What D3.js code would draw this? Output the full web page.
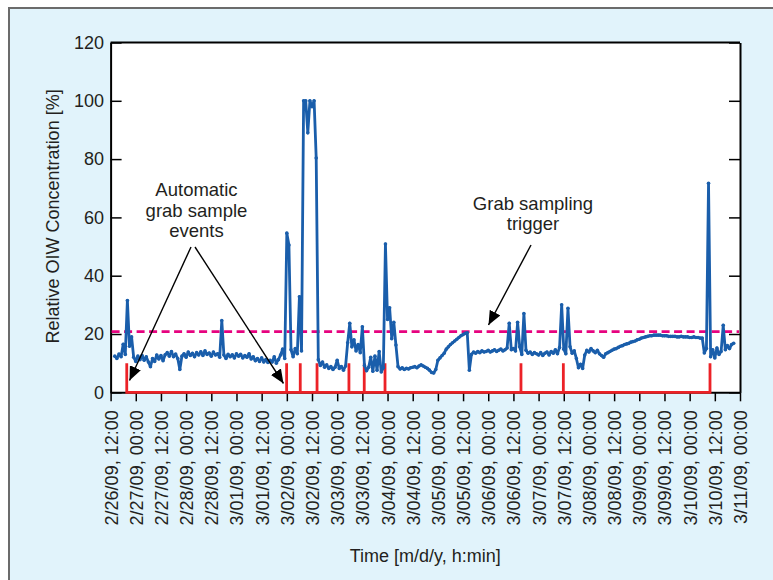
<!DOCTYPE html>
<html><head><meta charset="utf-8">
<script src="https://cdn.jsdelivr.net/npm/d3@7"></script>
<style>
html,body{margin:0;padding:0;background:#fff;}
svg{display:block;font-family:"Liberation Sans",Arial,Helvetica,sans-serif;}
</style></head>
<body>
<svg id="chart" width="773" height="580"></svg>
<script>
// ---- data ----
const xTickLabels = ["2/26/09, 12:00","2/27/09, 00:00","2/27/09, 12:00","2/28/09, 00:00","2/28/09, 12:00","3/01/09, 00:00","3/01/09, 12:00","3/02/09, 00:00","3/02/09, 12:00","3/03/09, 00:00","3/03/09, 12:00","3/04/09, 00:00","3/04/09, 12:00","3/05/09, 00:00","3/05/09, 12:00","3/06/09, 00:00","3/06/09, 12:00","3/07/09, 00:00","3/07/09, 12:00","3/08/09, 00:00","3/08/09, 12:00","3/09/09, 00:00","3/09/09, 12:00","3/10/09, 00:00","3/10/09, 12:00","3/11/09, 00:00"];
const yTicks = [0,20,40,60,80,100,120];
// OIW series: one reading per hour, first reading 2 h after 2/26/09 12:00
const oiwStartHour = 2;
const oiwValues = [
 12.4,11.6,13.1,12.2,16.5,13.0,31.5,15.8,19.0,12.0,
 10.6,12.4,11.2,12.6,11.0,12.2,10.4,8.8,11.6,10.6,
 12.8,11.4,12.6,10.8,12.9,13.6,12.4,14.0,12.2,13.1,
 11.6,7.8,12.4,13.2,12.0,13.8,12.6,13.4,12.2,13.6,
 12.8,13.9,12.6,14.2,13.0,13.5,12.4,13.8,12.8,13.2,
 12.0,24.6,12.8,11.6,13.0,12.2,12.9,11.8,13.2,12.4,
 13.0,11.8,12.6,12.0,13.2,11.4,12.2,10.8,11.6,10.6,
 11.8,10.4,11.2,10.2,11.0,10.4,12.2,10.0,11.2,12.8,
 14.8,11.6,54.6,50.5,14.6,12.2,15.0,13.2,32.8,14.2,
 100,100,89,100,98,100,80.4,11.2,9.2,10.4,
 8.6,9.4,8.2,8.8,7.8,8.6,11.0,8.2,8.8,7.6,
 9.0,17.0,23.7,15.6,18.0,14.2,16.4,13.6,22.5,9.2,
 7.4,8.6,12.0,7.2,12.4,7.6,14.0,7.0,8.4,50.9,
 25.0,29.0,18.4,24.0,16.2,8.8,8.0,8.4,7.8,8.2,
 8.0,8.4,8.6,8.8,8.4,9.0,9.4,9.0,8.6,8.2,
 7.6,6.8,6.6,7.8,11.0,11.8,12.6,13.4,14.8,15.6,
 16.4,17.0,17.6,18.2,18.8,19.4,19.8,20.2,20.4,7.6,
 13.0,13.8,13.4,14.0,13.6,14.2,13.8,14.0,14.4,13.8,
 14.2,14.6,14.0,14.4,14.8,14.2,14.6,15.2,23.7,14.6,
 15.0,14.2,24.0,15.6,13.0,27.0,14.4,13.4,13.8,13.0,
 13.6,13.2,12.8,13.6,12.6,13.4,13.8,12.8,14.0,13.4,
 14.6,13.2,15.4,30.0,14.8,13.2,28.8,15.6,13.4,14.2,
 11.6,8.4,9.6,8.2,12.8,14.4,13.8,15.0,14.2,13.6,
 14.4,13.2,12.6,12.0,13.2,13.6,14.0,14.4,14.8,15.0,
 15.4,15.8,16.0,16.4,16.6,16.8,17.2,17.4,17.6,18.0,
 18.2,18.6,18.8,19.0,19.2,19.4,19.4,19.6,19.6,19.6,
 19.6,19.4,19.4,19.4,19.2,19.2,19.2,19.2,19.0,19.0,
 19.2,19.0,19.0,19.0,18.8,18.8,19.0,18.8,18.8,18.6,
 18.6,13.5,15.0,71.7,12.2,14.6,11.8,15.2,13.0,14.0,
 23.0,14.6,16.0,15.0,16.4,16.8
];
// automatic grab sample events (hours after 2/26/09 12:00)
const grabEventHours = [7.7,83.9,90.4,98.4,113.6,120.9,130.8,195.6,215.8,285.7];
const grabEventLevel = 10;
const triggerLevel = 20.8;

// ---- layout ----
const svg = d3.select("#chart");
const W = 773, H = 580;
const plot = {left:110.6, right:740, top:42.5, bottom:392.3};
const x = d3.scaleLinear().domain([0,300]).range([plot.left, plot.right]);
const y = d3.scaleLinear().domain([0,120]).range([plot.bottom, plot.top]);
const textColor = "#231f20";

// background panel
svg.append("rect").attr("x",0).attr("y",0).attr("width",W).attr("height",H).attr("fill","#ffffff");
svg.append("rect").attr("x",9).attr("y",8).attr("width",W+20).attr("height",H+20)
  .attr("fill","#e1f3fb").attr("stroke","#6b6b6b").attr("stroke-width",2);
svg.append("rect").attr("x",plot.left).attr("y",plot.top)
  .attr("width",plot.right-plot.left).attr("height",plot.bottom-plot.top).attr("fill","#fff");

// axes
const tickHours = xTickLabels.map((d,i)=>i*12);
const xAxis = d3.axisBottom(x).tickValues(tickHours).tickFormat((d,i)=>xTickLabels[i]).tickSize(9).tickSizeOuter(0);
const gx = svg.append("g").attr("transform",`translate(0,${plot.bottom})`).call(xAxis);
gx.select(".domain").attr("stroke","#000").attr("stroke-width",2);
gx.selectAll(".tick line").attr("stroke","#000").attr("stroke-width",1.5);
gx.selectAll(".tick text")
  .attr("font-size",18).attr("fill",textColor).attr("font-family",null)
  .attr("transform","rotate(-90)")
  .attr("text-anchor","end")
  .attr("x",-18).attr("y",0).attr("dy","0.36em");

const yAxisL = d3.axisLeft(y).tickValues(yTicks).tickSize(-11).tickSizeOuter(0).tickPadding(7);
const gyl = svg.append("g").attr("transform",`translate(${plot.left},0)`).call(yAxisL);
gyl.select(".domain").attr("stroke","#000").attr("stroke-width",2);
gyl.selectAll(".tick line").attr("stroke","#000").attr("stroke-width",1.5);
gyl.selectAll(".tick text").attr("font-size",18).attr("fill",textColor).attr("font-family",null)
  .attr("x",-6.5);

const yAxisR = d3.axisRight(y).tickValues(yTicks).tickSize(-11).tickSizeOuter(0).tickFormat("");
const gyr = svg.append("g").attr("transform",`translate(${plot.right},0)`).call(yAxisR);
gyr.select(".domain").attr("stroke","#000").attr("stroke-width",2);
gyr.selectAll(".tick line").attr("stroke","#000").attr("stroke-width",1.5);

svg.append("line").attr("x1",plot.left).attr("x2",plot.right).attr("y1",plot.top).attr("y2",plot.top)
  .attr("stroke","#000").attr("stroke-width",2);

// red grab-event markers
const redPts = [];
grabEventHours.forEach(h=>{ redPts.push([h,0]); redPts.push([h,grabEventLevel]); redPts.push([h,0]); });
svg.append("path").datum(redPts)
  .attr("d", d3.line().x(d=>x(d[0])).y(d=>y(d[1])))
  .attr("fill","none").attr("stroke","#ec2227").attr("stroke-width",2.8).attr("stroke-linejoin","miter");

// trigger dashed line
svg.append("line").attr("x1",plot.left+1).attr("x2",plot.right-1)
  .attr("y1",y(triggerLevel)).attr("y2",y(triggerLevel))
  .attr("stroke","#e6037f").attr("stroke-width",2.6).attr("stroke-dasharray","8,4.5");

// OIW series
const series = oiwValues.map((v,i)=>[oiwStartHour+i, v]);
svg.append("path").datum(series)
  .attr("d", d3.line().x(d=>x(d[0])).y(d=>y(d[1])))
  .attr("fill","none").attr("stroke","#1a5eab").attr("stroke-width",2.8).attr("stroke-linejoin","round");
svg.append("g").selectAll("circle").data(series).join("circle")
  .attr("cx",d=>x(d[0])).attr("cy",d=>y(d[1])).attr("r",1.8).attr("fill","#1a5eab");

// axis titles
svg.append("text").attr("x",(plot.left+plot.right)/2).attr("y",562)
  .attr("text-anchor","middle").attr("font-size",18).attr("fill",textColor)
  .text("Time [m/d/y, h:min]");
svg.append("text").attr("transform",`translate(58.5,${(plot.top+plot.bottom)/2 - 1}) rotate(-90)`)
  .attr("text-anchor","middle").attr("font-size",18).attr("fill",textColor)
  .text("Relative OIW Concentration [%]");

// annotations
const defs = svg.append("defs");
defs.append("marker").attr("id","arrow").attr("viewBox","0 0 14 12").attr("refX",14).attr("refY",6)
  .attr("markerWidth",14).attr("markerHeight",12).attr("markerUnits","userSpaceOnUse").attr("orient","auto")
  .append("path").attr("d","M0,0 L14,6 L0,12 Z").attr("fill","#000");

function annot(lines, cx, y0){
  const t = svg.append("text").attr("text-anchor","middle").attr("font-size",18.5).attr("fill",textColor);
  lines.forEach((s,i)=>t.append("tspan").attr("x",cx).attr("y",y0+i*20.5).text(s));
}
annot(["Automatic","grab sample","events"], 196.5, 196);
annot(["Grab sampling","trigger"], 533, 209.5);

const arrows = [[191,247,129.5,380.5],[195,247,283.5,383.5],[531,245,488.5,325]];
arrows.forEach(a=>{
  svg.append("line").attr("x1",a[0]).attr("y1",a[1]).attr("x2",a[2]).attr("y2",a[3])
    .attr("stroke","#000").attr("stroke-width",1.4).attr("marker-end","url(#arrow)");
});
</script>
</body></html>
